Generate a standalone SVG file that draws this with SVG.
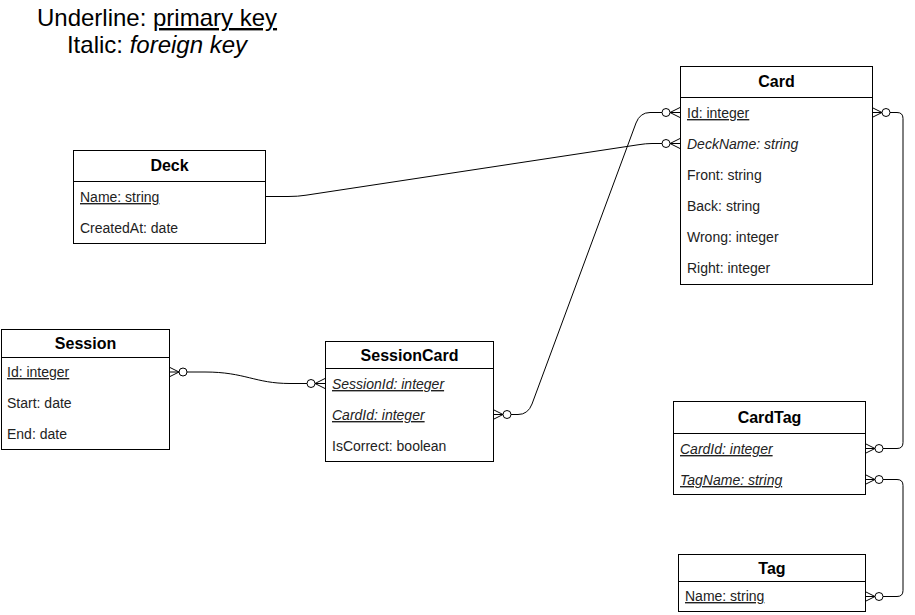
<svg xmlns="http://www.w3.org/2000/svg" xmlns:xlink="http://www.w3.org/1999/xlink" width="915" height="615" viewBox="0 0 915 615">
<style>
.box{fill:#fff;stroke:#000;stroke-width:1}
.sep{stroke:#000;stroke-width:1}
.hd{font-family:"Liberation Sans",Arial,sans-serif;font-size:16px;font-weight:bold;fill:#000;text-anchor:middle}
.at{font-family:"Liberation Sans",Arial,sans-serif;font-size:14px;fill:#222}
.pk{text-decoration:underline}
.fk{font-style:italic}
.ttl{font-family:"Liberation Sans",Arial,sans-serif;font-size:24px;fill:#000;text-anchor:middle}
.edge{fill:none;stroke:#000;stroke-width:1}
</style>
<defs>
<g id="zm">
<path d="M0,-5 L10,0 M0,5 L10,0 M0,0 L10,0" fill="none" stroke="#000" stroke-width="1"/>
<circle cx="14" cy="0" r="4" fill="#fff" stroke="#000" stroke-width="1"/>
</g>
</defs>
<rect width="915" height="615" fill="#fff"/>
<g id="legend">
<text class="ttl" x="157" y="26">Underline: <tspan class="pk">primary key</tspan></text>
<text class="ttl" x="157" y="53">Italic: <tspan class="fk">foreign key</tspan></text>
</g>
<g id="connectors">
<path class="edge" d="M265,196.5 H288 Q298,196.5 306,195.2 L638,144.8 Q646,143.5 652,143.5 H662"/>
<path class="edge" d="M511,414.5 H518 Q528,414.5 532,404 L636,123 Q640,112.5 650,112.5 H662"/>
<path class="edge" d="M187,372 H205 C245,372 255,383.5 290,383.5 H307"/>
<path class="edge" d="M890,112.5 H897 Q903,112.5 903,118.5 V442.5 Q903,448.5 897,448.5 H883"/>
<path class="edge" d="M883,479.5 H897 Q903,479.5 903,485.5 V590.5 Q903,596.5 897,596.5 H883"/>
<use xlink:href="#zm" transform="translate(680,143.5) scale(-1,1)"/>
<use xlink:href="#zm" transform="translate(680,112.5) scale(-1,1)"/>
<use xlink:href="#zm" transform="translate(493,414.5)"/>
<use xlink:href="#zm" transform="translate(169,372)"/>
<use xlink:href="#zm" transform="translate(325,383.5) scale(-1,1)"/>
<use xlink:href="#zm" transform="translate(872,112.5)"/>
<use xlink:href="#zm" transform="translate(865,448.5)"/>
<use xlink:href="#zm" transform="translate(865,479.5)"/>
<use xlink:href="#zm" transform="translate(865,596.5)"/>
</g>
<g id="Card">
<rect class="box" x="680.5" y="66.5" width="192" height="218"/>
<line class="sep" x1="680.5" y1="97.5" x2="872.5" y2="97.5"/>
<text class="hd" x="776.5" y="87">Card</text>
<text class="at pk" x="687" y="118">Id: integer</text>
<text class="at fk" x="687" y="149">DeckName: string</text>
<text class="at" x="687" y="180">Front: string</text>
<text class="at" x="687" y="211">Back: string</text>
<text class="at" x="687" y="242">Wrong: integer</text>
<text class="at" x="687" y="273">Right: integer</text>
</g>
<g id="Deck">
<rect class="box" x="73.5" y="150.5" width="192" height="93"/>
<line class="sep" x1="73.5" y1="181.5" x2="265.5" y2="181.5"/>
<text class="hd" x="169.5" y="171">Deck</text>
<text class="at pk" x="80" y="202">Name: string</text>
<text class="at" x="80" y="233">CreatedAt: date</text>
</g>
<g id="Session">
<rect class="box" x="1.5" y="329.5" width="168" height="120"/>
<line class="sep" x1="1.5" y1="357.5" x2="169.5" y2="357.5"/>
<text class="hd" x="85.5" y="349">Session</text>
<text class="at pk" x="7" y="377">Id: integer</text>
<text class="at" x="7" y="408">Start: date</text>
<text class="at" x="7" y="439">End: date</text>
</g>
<g id="SessionCard">
<rect class="box" x="325.5" y="341.5" width="168" height="120"/>
<line class="sep" x1="325.5" y1="368.5" x2="493.5" y2="368.5"/>
<text class="hd" x="409.5" y="360.5">SessionCard</text>
<text class="at pk fk" x="332" y="389">SessionId: integer</text>
<text class="at pk fk" x="332" y="420">CardId: integer</text>
<text class="at" x="332" y="451">IsCorrect: boolean</text>
</g>
<g id="CardTag">
<rect class="box" x="673.5" y="401.5" width="192" height="93"/>
<line class="sep" x1="673.5" y1="433.5" x2="865.5" y2="433.5"/>
<text class="hd" x="769.5" y="423">CardTag</text>
<text class="at pk fk" x="680" y="454">CardId: integer</text>
<text class="at pk fk" x="680" y="485">TagName: string</text>
</g>
<g id="Tag">
<rect class="box" x="678.5" y="554.5" width="187" height="57"/>
<line class="sep" x1="678.5" y1="581.5" x2="865.5" y2="581.5"/>
<text class="hd" x="772" y="574">Tag</text>
<text class="at pk" x="685" y="601">Name: string</text>
</g>
</svg>
